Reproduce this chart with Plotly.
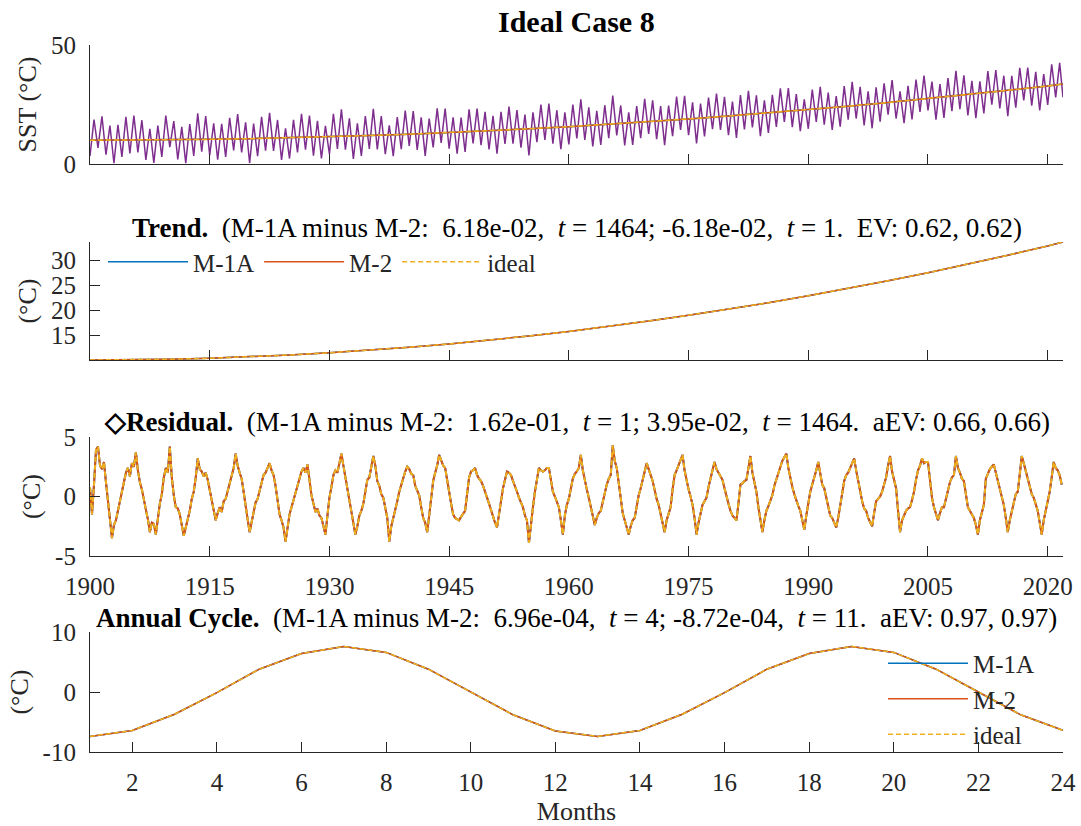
import plotly.graph_objects as go

# ---------------- data ----------------
years = list(range(1900, 2022))

# residual anomaly, quarterly samples (Jan, Apr, Jul, Oct) per year
residual_q = [
    0.8, -1.5, 1.0, 3.9,   4.2, 2.6, 2.3, 2.9,   1.2, -0.5, -1.6, -3.5,  -2.4, -2.0, -1.2, -0.3,
    0.3, 1.2, 2.0, 2.4,    1.7, 2.8, 2.5, 3.7,   2.2, 1.2, 0.6, -0.4,    -1.1, -1.9, -3.0, -2.2,
    -2.3, -3.2, -1.8, -0.6, 0.2, 1.6, 2.4, 2.0,  4.2, 1.6, 0.1, -0.9,    -1.0, -1.5, -2.4, -3.3,
    -2.6, -1.9, -1.2, -0.2, 0.4, 1.6, 3.2, 2.3,  2.1, 1.7, 2.0, 1.4,     0.6, -0.2, -1.1, -2.0,
    -1.4, -0.9, -1.3, -0.4, -0.2, 0.4, 1.1, 1.8, 2.4, 3.6, 2.6, 2.0,     1.5, 0.4, -0.9, -1.9,
    -3.0, -2.2, -1.5, -0.5, -0.2, 0.4, 1.2, 1.8, 2.0, 2.4, 2.8, 2.2,     1.8, 0.9, -0.2, -1.5,
    -2.0, -2.6, -3.8, -2.4, -1.5, -0.9, -0.3, 0.4, 1.0, 1.6, 2.1, 2.4,   2.0, 2.7, 1.2, 0.1,
    -0.6, -1.3, -1.0, -1.6, -1.8, -2.4, -3.2, -1.6, -0.1, 0.8, 1.8, 2.2, 2.0, 2.8, 3.6, 2.6,
    1.6, 0.6, -0.3, -1.5,  -2.4, -3.2, -2.5, -1.6, -1.2, -0.6, 0.4, 1.4,  1.6, 2.4, 3.4, 2.6,
    1.3, 0.9, 0.2, -0.1,   -0.9, -1.8, -3.8, -2.5, -1.8, -1.2, -0.4, 0.4, 1.0, 1.6, 2.1, 2.5,
    2.3, 1.9, 1.8, 0.9,    0.4, 0.1, -0.9, -1.8,  -2.2, -3.0, -1.6, -0.2,  1.3, 2.0, 2.6, 3.5,
    3.0, 2.6, 2.4, 1.2,    0.4, -0.6, -1.5, -1.8, -1.9, -2.0, -1.7, -1.4, -1.2, 0.2, 1.6, 2.1,
    2.2, 2.4, 1.8, 1.5,    1.3, 0.9, 0.3, -0.1,   -0.6, -1.2, -1.6, -2.2,  -2.6, -1.5, 0.0, 0.7,
    1.4, 2.1, 2.0, 1.8,    1.3, 0.9, 0.4, -0.1,   -0.5, -0.9, -1.6, -2.0,  -3.9, -2.2, -0.9, 0.4,
    1.5, 2.4, 2.2, 2.1,    2.2, 2.4, 2.4, 1.2,    0.4, 0.0, -0.5, -0.9,    -2.0, -3.2, -1.6, -0.7,
    -0.2, 0.6, 1.5, 1.9,   2.1, 2.4, 3.5, 2.2,    1.3, 0.6, -0.1, -0.9,    -1.6, -2.4, -1.8, -1.4,
    -1.2, -0.4, 0.4, 1.0,  1.5, 1.8, 4.3, 3.0,    2.4, 1.2, -0.1, -1.4,    -2.0, -2.6, -3.2, -2.5,
    -2.0, -1.8, -0.8, 0.1, 0.7, 1.5, 2.1, 2.8,    2.2, 1.8, 1.3, 0.4,      -0.2, -0.7, -1.4, -2.2,
    -3.0, -2.0, -1.4, -0.9, 0.6, 1.8, 2.2, 2.7,   3.0, 3.5, 2.2, 1.3,      0.6, 0.0, -0.7, -1.8,
    -3.2, -2.2, -1.4, -0.7, -0.4, -0.1, 0.8, 1.6, 2.4, 2.9, 2.3, 2.0,      1.8, 1.4, 0.7, -0.1,
    -0.6, -1.2, -1.6, -1.8, -2.0, -0.6, 1.0, 1.1, 1.3, 1.4, 2.4, 3.4,      2.0, 1.2, 0.4, -0.9,
    -2.0, -3.0, -2.0, -1.2, -0.8, -0.4, 0.1, 0.9, 1.4, 2.1, 2.6, 3.0,      3.3, 3.6, 2.4, 1.5,
    0.8, 0.2, -0.4, -0.8,  -1.2, -1.9, -2.8, -1.6, -0.4, 0.4, 1.0, 1.5,    2.2, 2.9, 1.8, 1.0,
    0.7, 0.0, -0.9, -1.6,  -1.8, -2.2, -2.6, -1.8, -0.7, 0.2, 1.3, 1.8,    2.0, 2.4, 2.8, 3.2,
    2.2, 1.3, 0.4, -0.4,   -1.0, -1.2, -1.8, -2.2, -2.5, -1.4, -0.4, -0.2, 0.0, 0.4, 1.0, 1.6,
    2.6, 3.4, 2.1, 1.3,    0.7, -1.2, -3.0, -2.0, -1.5, -1.2, -1.0, -0.9,  -0.3, 0.4, 1.4, 2.2,
    2.6, 3.2, 2.8, 2.9,    2.9, 1.5, -0.1, -0.9,  -1.4, -2.0, -1.4, -0.9,  -0.9, -0.1, 0.7, 1.2,
    1.6, 1.8, 3.4, 2.4,    2.0, 1.5, 1.3, 0.3,    -0.9, -1.2, -1.5, -1.8,  -2.4, -3.2, -2.0, -1.2,
    -0.7, 1.5, 1.9, 2.3,   2.5, 2.7, 2.0, 1.3,    0.6, -0.1, -0.7, -1.8,   -3.0, -2.0, -1.2, -0.4,
    0.2, 0.4, 1.8, 3.4,    2.8, 2.2, 1.5, 0.8,    0.2, -0.1, -0.7, -1.2,   -2.2, -3.2, -2.0, -1.2,
    -0.4, 0.4, 1.6, 2.9,   2.4, 2.2, 1.8, 1.0,
]

# raw SST: January (trough) and July (peak) values per year, plus the last month
sst_jan = [
    3.4, 6.8, 3.9, 0.3, 3.0, 4.4, 4.9, 1.7, 0.5, 3.0,
    7.1, 1.9, 0.4, 3.4, 5.2, 3.7, 1.8, 3.0, 5.7, 4.9,
    0.4, 3.3, 5.6, 5.5, 1.7, 2.3, 4.9, 6.0, 3.5, 2.3,
    4.1, 6.3, 6.0, 2.1, 3.4, 6.3, 6.1, 4.1, 3.3, 6.2,
    7.6, 5.9, 3.4, 7.0, 8.9, 6.4, 4.3, 5.1, 8.7, 7.9,
    6.1, 4.3, 8.4, 8.5, 6.9, 3.6, 9.2, 10.1, 8.5, 6.2,
    8.2, 10.7, 10.1, 7.4, 8.0, 10.9, 12.0, 7.8, 8.0, 10.9,
    12.6, 10.4, 7.9, 11.7, 14.3, 12.1, 8.6, 11.6, 14.6, 14.3,
    12.1, 11.0, 14.5, 15.4, 11.7, 13.1, 15.6, 17.7, 15.5, 13.8,
    14.8, 17.7, 16.5, 14.3, 15.7, 18.6, 19.1, 16.2, 15.0, 17.8,
    20.7, 19.1, 17.2, 18.7, 21.9, 22.5, 18.6, 19.4, 22.2, 23.0,
    20.4, 19.3, 21.3, 24.9, 23.4, 20.1, 23.7, 26.7, 24.5, 22.5,
    24.8, 28.0,
]
sst_jul = [
    18.7, 20.0, 16.1, 16.5, 19.8, 20.3, 18.4, 14.8, 16.1, 20.3,
    18.0, 15.6, 16.8, 21.3, 20.1, 17.1, 16.9, 19.4, 21.0, 17.5,
    17.0, 19.8, 21.5, 18.5, 15.0, 18.6, 21.1, 20.3, 18.1, 16.0,
    21.1, 23.0, 19.2, 17.1, 20.1, 23.2, 20.1, 16.2, 19.7, 22.4,
    22.2, 19.6, 19.1, 23.4, 23.3, 19.6, 19.5, 23.0, 23.3, 21.9,
    20.2, 21.9, 24.1, 22.7, 20.8, 21.7, 25.0, 25.4, 22.6, 21.7,
    25.0, 27.2, 23.8, 22.3, 24.7, 28.8, 24.6, 21.7, 24.3, 27.4,
    26.8, 24.3, 24.5, 28.3, 28.6, 25.9, 25.4, 27.9, 29.6, 28.2,
    26.2, 29.0, 30.7, 28.9, 26.7, 29.1, 31.8, 31.9, 29.4, 27.2,
    31.3, 32.4, 30.0, 28.5, 32.7, 34.5, 32.4, 30.5, 32.2, 33.9,
    35.3, 30.5, 32.8, 35.5, 37.2, 34.6, 33.6, 36.1, 39.1, 37.3,
    34.9, 34.7, 39.0, 39.5, 37.1, 37.0, 40.4, 40.5, 38.7, 37.8,
    41.9, 42.5,
]
sst_dec_2021 = 28.0

# long-term trend, sampled every five years (plus final month)
trend_time = [1900, 1905, 1910, 1915, 1920, 1925, 1930, 1935, 1940, 1945, 1950, 1955, 1960,
              1965, 1970, 1975, 1980, 1985, 1990, 1995, 2000, 2005, 2010, 2015, 2020, 2021.92]
trend_vals = [10.0, 10.05, 10.15, 10.35, 10.65, 11.0, 11.45, 11.95, 12.55, 13.2, 13.95, 14.8, 15.7,
              16.7, 17.8, 18.95, 20.15, 21.45, 22.85, 24.3, 25.85, 27.45, 29.15, 30.95, 32.8, 33.6]

# mean annual cycle over two years
months = list(range(1, 25))
annual_cycle = [-7.4, -6.4, -3.7, -0.1, 3.8, 6.4, 7.6, 6.6, 3.8, 0.0, -3.8, -6.5,
                -7.4, -6.4, -3.7, -0.1, 3.8, 6.4, 7.6, 6.6, 3.8, 0.0, -3.8, -6.4]

year_ticks = [1900, 1915, 1930, 1945, 1960, 1975, 1990, 2005, 2020]
month_ticks = [2, 4, 6, 8, 10, 12, 14, 16, 18, 20, 22, 24]
sst_ticks = [0, 50]
trend_ticks = [15, 20, 25, 30]
res_ticks = [-5, 0, 5]
res_ticktext = ["-5", "0", "5"]
cyc_ticks = [-10, 0, 10]
cyc_ticktext = ["-10", "0", "10"]

series_names = ["M-1A", "M-2", "ideal"]
series_colors = ["#0072BD", "#D95319", "#EDB120"]
series_dash = ["solid", "solid", "5px,3px"]

# ---------------- derived x grids ----------------
res_x = [y + q for y in years for q in (0.0, 0.25, 0.5, 0.75)]
sst_x, sst_y = [], []
for y, a, b in zip(years, sst_jan, sst_jul):
    sst_x += [y, y + 0.5]
    sst_y += [a, b]
sst_x.append(years[-1] + 11 / 12)
sst_y.append(sst_dec_2021)

# ---------------- figure ----------------
W, H = 1081, 826
FONT = "Liberation Serif"
AX = "#262626"

def px_x(p):
    return p / W

def px_y(p):
    return (H - p) / H

x0, x1 = px_x(90), px_x(1063)
doms = [(164, 45), (360, 242), (556, 437), (752, 632)]

fig = go.Figure()

# panel 1
fig.add_trace(go.Scatter(x=sst_x, y=sst_y, mode="lines", line=dict(color="#7E2F8E", width=1.5),
                         xaxis="x", yaxis="y", showlegend=False))
for n, c, d in zip(series_names, series_colors, series_dash):
    fig.add_trace(go.Scatter(x=trend_time, y=trend_vals, mode="lines", line=dict(color=c, width=1.5, dash=d),
                             xaxis="x", yaxis="y", showlegend=False))
# panel 2
for n, c, d in zip(series_names, series_colors, series_dash):
    fig.add_trace(go.Scatter(x=trend_time, y=trend_vals, mode="lines", name=n,
                             line=dict(color=c, width=1.5, dash=d), xaxis="x2", yaxis="y2",
                             legend="legend"))
# panel 3
for n, c, d in zip(series_names, series_colors, series_dash):
    fig.add_trace(go.Scatter(x=res_x, y=residual_q, mode="lines", name=n,
                             line=dict(color=c, width=2, dash=d), xaxis="x3", yaxis="y3",
                             showlegend=False))
# panel 4
for n, c, d in zip(series_names, series_colors, series_dash):
    fig.add_trace(go.Scatter(x=months, y=annual_cycle, mode="lines", name=n,
                             line=dict(color=c, width=1.5, dash=d), xaxis="x4", yaxis="y4",
                             legend="legend2"))

axis_common = dict(showline=True, linecolor=AX, linewidth=1.2, ticks="inside", ticklen=10,
                   tickcolor=AX, tickwidth=1.2, showgrid=False, zeroline=False, automargin=False,
                   tickfont=dict(family=FONT, size=25, color=AX), mirror=False)
title_font = dict(family=FONT, size=26, color=AX)

yr_range = [1900, years[-1] + 11 / 12]
lay = dict(
    width=W, height=H, margin=dict(l=0, r=0, t=0, b=0, autoexpand=False),
    plot_bgcolor="white", paper_bgcolor="white",
    font=dict(family=FONT, size=25, color=AX),
)
for i, (b, t) in enumerate(doms, start=1):
    sx = "" if i == 1 else str(i)
    lay["xaxis" + sx] = dict(axis_common, domain=[x0, x1], anchor="y" + sx)
    lay["yaxis" + sx] = dict(axis_common, domain=[px_y(b), px_y(t)], anchor="x" + sx,
                             ticklabelstandoff=8)
for sx in ["", "2", "3"]:
    lay["xaxis" + sx].update(range=yr_range, tickvals=year_ticks, showticklabels=(sx == "3"),
                             ticklabelstandoff=8)
lay["xaxis4"].update(range=[1, 24], tickvals=month_ticks, ticklabelstandoff=8,
                     title=dict(text="Months", font=title_font, standoff=6))
lay["yaxis"].update(range=[0, 50], tickvals=sst_ticks,
                    title=dict(text="SST (°C)", font=title_font, standoff=6))
lay["yaxis2"].update(range=[10, 33.6], tickvals=trend_ticks,
                     title=dict(text="(°C)", font=title_font, standoff=6))
lay["yaxis3"].update(range=[-5, 5], tickvals=res_ticks, ticktext=res_ticktext,
                     title=dict(text="(°C)", font=title_font, standoff=6))
lay["yaxis4"].update(range=[-10, 10], tickvals=cyc_ticks, ticktext=cyc_ticktext,
                     title=dict(text="(°C)", font=title_font, standoff=6))

lay["legend"] = dict(orientation="h", x=px_x(103), y=px_y(262), xanchor="left", yanchor="middle",
                     bgcolor="rgba(0,0,0,0)", font=dict(family=FONT, size=25, color=AX),
                     itemwidth=80, tracegroupgap=0)
lay["legend2"] = dict(orientation="v", x=px_x(883), y=px_y(699), xanchor="left", yanchor="middle",
                      bgcolor="rgba(0,0,0,0)", font=dict(family=FONT, size=25, color=AX),
                      itemwidth=80, tracegroupgap=0)

S = "\u00a0"
titles = [
    ("<b>Ideal Case 8</b>", 22, 30),
    ("<b>Trend.</b>" + S * 2 + "(M-1A minus M-2:" + S * 2 + "6.18e-02," + S * 2 + "<i>t</i> = 1464; -6.18e-02,"
     + S * 2 + "<i>t</i> = 1." + S * 2 + "EV: 0.62, 0.62)", 228, 27),
    ("<b>\u25C7Residual.</b>" + S * 2 + "(M-1A minus M-2:" + S * 2 + "1.62e-01," + S * 2 + "<i>t</i> = 1; 3.95e-02,"
     + S * 2 + "<i>t</i> = 1464." + S * 2 + "aEV: 0.66, 0.66)", 422, 27),
    ("<b>Annual Cycle.</b>" + S * 2 + "(M-1A minus M-2:" + S * 2 + "6.96e-04," + S * 2 + "<i>t</i> = 4; -8.72e-04,"
     + S * 2 + "<i>t</i> = 11." + S * 2 + "aEV: 0.97, 0.97)", 618, 27),
]
lay["annotations"] = [dict(text=t, x=(x0 + x1) / 2, y=px_y(yc), xref="paper", yref="paper",
                           xanchor="center", yanchor="middle", showarrow=False,
                           font=dict(family=FONT, size=fs, color="#000000")) for t, yc, fs in titles]

fig.update_layout(**lay)
fig.write_html("out.html")
